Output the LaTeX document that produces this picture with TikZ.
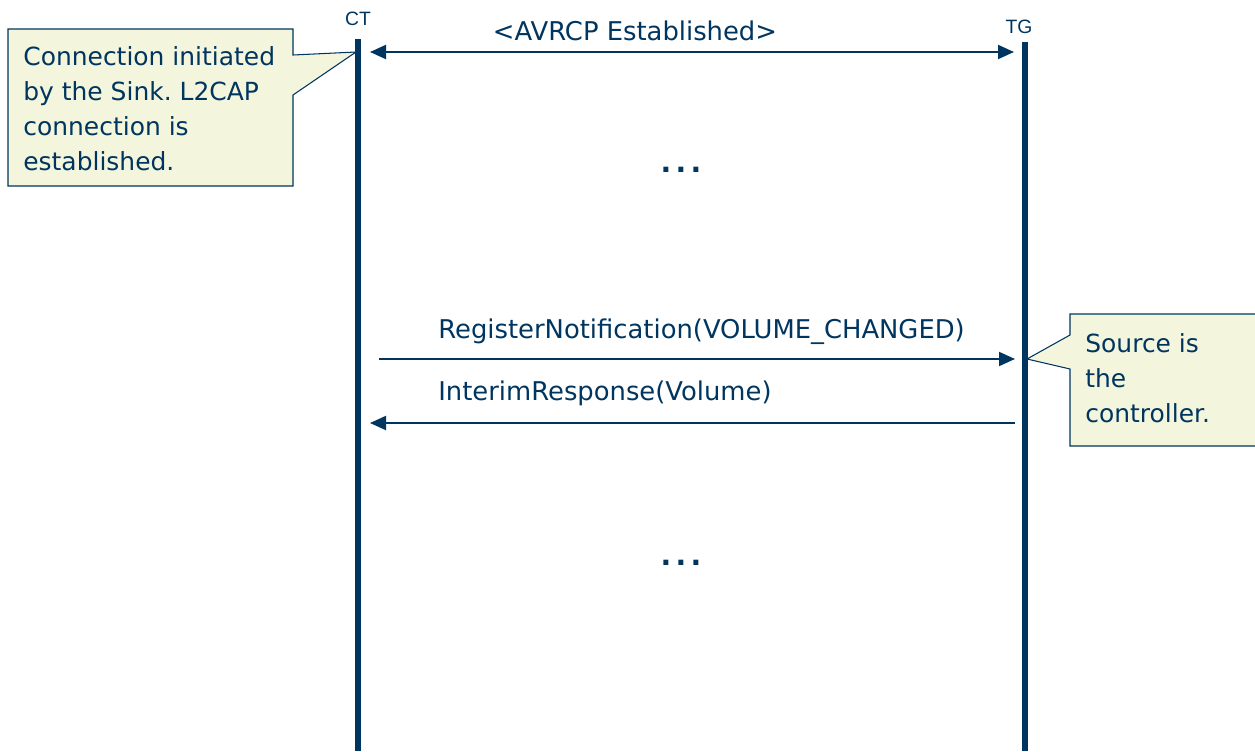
\documentclass[tikz,border=0pt]{standalone}
\usepackage{fontspec}
\setmainfont{DejaVu Sans}
\newfontfamily\tagfont{Liberation Sans}
\usetikzlibrary{arrows.meta,positioning}
\definecolor{navy}{RGB}{0,53,95}
\definecolor{notefill}{RGB}{243,245,221}
\frenchspacing
\begin{document}
\begin{tikzpicture}[
  x=0.02cm,y=-0.02cm,
  >={Triangle[length=3.2mm,width=2.8mm]},
  lbl/.style={font=\fontsize{14.7pt}{19.9pt}\selectfont,text=navy,inner sep=0pt},
  notetext/.style={lbl,font=\fontsize{14.2pt}{19.9pt}\selectfont,align=left},
  gapdots/.style={lbl,font=\fontsize{16pt}{19.9pt}\selectfont\bfseries},
  tag/.style={font=\tagfont\fontsize{11pt}{13pt}\selectfont,text=navy,inner sep=0pt},
  life/.style={draw=navy,line width=3.1pt},
  arr/.style={draw=navy,line width=1.1pt,->},
  dblarr/.style={draw=navy,line width=1.1pt,<->},
  note/.style={draw=navy,line width=0.6pt,fill=notefill}
]
\useasboundingbox (0,0) rectangle (1255,751);

% callouts
\draw[note] (8,29) -- (293,29) -- (293,55) -- (356,52) -- (293,95) -- (293,186) -- (8,186) -- cycle;
\node[notetext,anchor=north west] (sinknote) at (23,46)
  {Connection initiated\\by the Sink. L2CAP\\connection is\\established.};
\draw[note] (1070,314) -- (1070,335) -- (1027,359) -- (1070,369) -- (1070,446) -- (1265,446) -- (1265,314) -- cycle;
\node[notetext,anchor=north west] (srcnote) at (1085,333)
  {Source is\\the\\controller.};

% lifelines
\node[tag,anchor=base] (ct) at (358,25) {CT};
\node[tag,anchor=base] (tg) at (1019,33) {TG};
\coordinate (ct top) at (358,39);
\coordinate (ct bot) at (358,751);
\coordinate (tg top) at (1025,42);
\coordinate (tg bot) at (1025,751);
\draw[life] (ct top) -- (ct bot);
\draw[life] (tg top) -- (tg bot);

% messages
\coordinate (est l) at (370,52);
\coordinate (est r) at (1014,52);
\draw[dblarr] (est l) -- (est r);
\node[lbl,anchor=base] (est) at (635,40) {<AVRCP Established>};

\coordinate (reg l) at (379,359);
\coordinate (reg r) at (1015,359);
\draw[arr] (reg l) -- (reg r);
\node[lbl,anchor=base west] (reg) at (438,338) {RegisterNotification(VOLUME\_CHANGED)};

\coordinate (rsp r) at (1015,423);
\coordinate (rsp l) at (370,423);
\draw[arr] (rsp r) -- (rsp l);
\node[lbl,anchor=base west] (rsp) at (438,400) {InterimResponse(Volume)};

\node[gapdots,anchor=base] (gap1) at (681,172) {.\kern2.5pt.\kern2.5pt.};
\node[gapdots,anchor=base] (gap2) at (681,565) {.\kern2.5pt.\kern2.5pt.};
\end{tikzpicture}
\end{document}
